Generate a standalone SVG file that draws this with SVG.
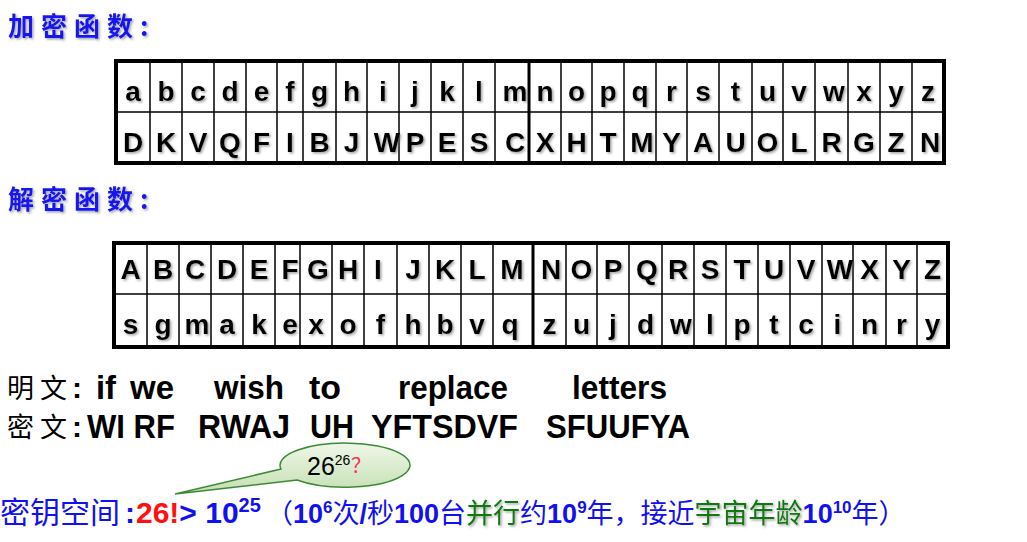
<svg xmlns="http://www.w3.org/2000/svg" width="1027" height="542" viewBox="0 0 1027 542">
<defs>
<filter id="sh" x="-20%" y="-20%" width="150%" height="150%">
<feDropShadow dx="1.5" dy="1.5" stdDeviation="0.9" flood-color="#666" flood-opacity="0.6"/>
</filter>
<linearGradient id="bub" x1="0" y1="0" x2="0" y2="1">
<stop offset="0" stop-color="#eef7e8"/>
<stop offset="1" stop-color="#c4dfb2"/>
</linearGradient>
<style>
.t{font-family:"Noto Sans CJK SC","Liberation Sans",sans-serif;font-weight:bold;font-size:26px;fill:#1414f0;letter-spacing:7px;filter:url(#sh)}
.cj{font-family:"Liberation Sans","Noto Sans CJK SC",sans-serif;font-size:27px;fill:#000;letter-spacing:6px}
.w{font-family:"Liberation Sans","Noto Sans CJK SC",sans-serif;font-weight:bold;font-size:33px;fill:#000}
.L{font-family:"Liberation Sans",Arial,sans-serif;font-weight:bold;font-size:28px;fill:#000;text-anchor:middle;filter:url(#sh)}
.grid{stroke:#000;stroke-width:1.5;fill:none}
.thick{stroke:#000;stroke-width:3;fill:none}
.frame{stroke:#000;stroke-width:4;fill:#fff}
.b{font-family:"Liberation Sans","Noto Sans CJK SC",sans-serif;fill:#1010f0}
.bd{font-weight:bold}
.g{fill:#107a10;filter:url(#sh)}
</style>
</defs>
<rect width="1027" height="542" fill="#fff"/>

<g id="title-enc"><text class="t" x="8" y="36">加密函数<tspan letter-spacing="0">:</tspan></text></g>

<g id="table-enc">
<rect class="frame" x="116" y="61" width="828" height="102"/>
<path class="grid" d="M116 112H944M150 61V163M182 61V163M214 61V163M246 61V163M277 61V163M303 61V163M336 61V163M367 61V163M399 61V163M431 61V163M463 61V163M495 61V163M561 61V163M592 61V163M624 61V163M656 61V163M687 61V163M719 61V163M752 61V163M783 61V163M815 61V163M848 61V163M880 61V163M912 61V163"/>
<path class="thick" d="M529 61V163"/>
<g class="row">
<text class="L" x="133" y="101">a</text><text class="L" x="166" y="101">b</text><text class="L" x="198" y="101">c</text><text class="L" x="230" y="101">d</text><text class="L" x="261.5" y="101">e</text><text class="L" x="290" y="101">f</text><text class="L" x="319.5" y="101">g</text><text class="L" x="351.5" y="101">h</text><text class="L" x="383" y="101">i</text><text class="L" x="415" y="101">j</text><text class="L" x="447" y="101">k</text><text class="L" x="479" y="101">l</text><text class="L" x="515" y="101">m</text><text class="L" x="545" y="101">n</text><text class="L" x="576.5" y="101">o</text><text class="L" x="608" y="101">p</text><text class="L" x="640" y="101">q</text><text class="L" x="671.5" y="101">r</text><text class="L" x="703" y="101">s</text><text class="L" x="735.5" y="101">t</text><text class="L" x="767.5" y="101">u</text><text class="L" x="799" y="101">v</text><text class="L" x="834" y="101">w</text><text class="L" x="864" y="101">x</text><text class="L" x="896" y="101">y</text><text class="L" x="928" y="101">z</text>
</g>
<g class="row">
<text class="L" x="133" y="152">D</text><text class="L" x="166" y="152">K</text><text class="L" x="198" y="152">V</text><text class="L" x="230" y="152">Q</text><text class="L" x="261.5" y="152">F</text><text class="L" x="290" y="152">I</text><text class="L" x="319.5" y="152">B</text><text class="L" x="351.5" y="152">J</text><text class="L" x="387" y="152">W</text><text class="L" x="415" y="152">P</text><text class="L" x="447" y="152">E</text><text class="L" x="479" y="152">S</text><text class="L" x="515" y="152">C</text><text class="L" x="545" y="152">X</text><text class="L" x="576.5" y="152">H</text><text class="L" x="608" y="152">T</text><text class="L" x="642" y="152">M</text><text class="L" x="671.5" y="152">Y</text><text class="L" x="703" y="152">A</text><text class="L" x="735.5" y="152">U</text><text class="L" x="767.5" y="152">O</text><text class="L" x="799" y="152">L</text><text class="L" x="831.5" y="152">R</text><text class="L" x="864" y="152">G</text><text class="L" x="896" y="152">Z</text><text class="L" x="930" y="152">N</text>
</g>
</g>

<g id="title-dec"><text class="t" x="8" y="209">解密函数<tspan letter-spacing="0">:</tspan></text></g>

<g id="table-dec">
<rect class="frame" x="114" y="243" width="834" height="104"/>
<path class="grid" d="M114 294H948M147 243V347M179 243V347M211 243V347M243 243V347M275 243V347M300 243V347M332 243V347M364 243V347M397 243V347M429 243V347M461 243V347M493 243V347M566 243V347M597 243V347M629 243V347M662 243V347M694 243V347M726 243V347M758 243V347M790 243V347M822 243V347M853 243V347M886 243V347M917 243V347"/>
<path class="thick" d="M533 243V347"/>
<g class="row">
<text class="L" x="130.5" y="279">A</text><text class="L" x="163" y="279">B</text><text class="L" x="195" y="279">C</text><text class="L" x="227" y="279">D</text><text class="L" x="259" y="279">E</text><text class="L" x="290" y="279">F</text><text class="L" x="318" y="279">G</text><text class="L" x="348" y="279">H</text><text class="L" x="378" y="279">I</text><text class="L" x="413" y="279">J</text><text class="L" x="445" y="279">K</text><text class="L" x="477" y="279">L</text><text class="L" x="512" y="279">M</text><text class="L" x="551" y="279">N</text><text class="L" x="581.5" y="279">O</text><text class="L" x="613" y="279">P</text><text class="L" x="647" y="279">Q</text><text class="L" x="678" y="279">R</text><text class="L" x="710" y="279">S</text><text class="L" x="742" y="279">T</text><text class="L" x="774" y="279">U</text><text class="L" x="806" y="279">V</text><text class="L" x="840" y="279">W</text><text class="L" x="869.5" y="279">X</text><text class="L" x="901.5" y="279">Y</text><text class="L" x="932.5" y="279">Z</text>
</g>
<g class="row">
<text class="L" x="130.5" y="334">s</text><text class="L" x="163" y="334">g</text><text class="L" x="197" y="334">m</text><text class="L" x="227" y="334">a</text><text class="L" x="259" y="334">k</text><text class="L" x="290" y="334">e</text><text class="L" x="316" y="334">x</text><text class="L" x="348" y="334">o</text><text class="L" x="380.5" y="334">f</text><text class="L" x="413" y="334">h</text><text class="L" x="445" y="334">b</text><text class="L" x="477" y="334">v</text><text class="L" x="510" y="334">q</text><text class="L" x="549.5" y="334">z</text><text class="L" x="581.5" y="334">u</text><text class="L" x="613" y="334">j</text><text class="L" x="645.5" y="334">d</text><text class="L" x="681" y="334">w</text><text class="L" x="710" y="334">l</text><text class="L" x="742" y="334">p</text><text class="L" x="774" y="334">t</text><text class="L" x="806" y="334">c</text><text class="L" x="837.5" y="334">i</text><text class="L" x="869.5" y="334">n</text><text class="L" x="901.5" y="334">r</text><text class="L" x="932.5" y="334">y</text>
</g>
</g>

<g id="plaintext">
<text class="cj" x="7" y="398">明文<tspan class="bd" font-size="30" letter-spacing="0" x="72">:</tspan></text>
<text class="w" x="96" y="399" textLength="20" lengthAdjust="spacingAndGlyphs">if</text>
<text class="w" x="130" y="399" textLength="44" lengthAdjust="spacingAndGlyphs">we</text>
<text class="w" x="214" y="399" textLength="70" lengthAdjust="spacingAndGlyphs">wish</text>
<text class="w" x="309" y="399" textLength="32" lengthAdjust="spacingAndGlyphs">to</text>
<text class="w" x="398" y="399" textLength="110" lengthAdjust="spacingAndGlyphs">replace</text>
<text class="w" x="572" y="399" textLength="95" lengthAdjust="spacingAndGlyphs">letters</text>
</g>

<g id="ciphertext">
<text class="cj" x="7" y="437">密文<tspan class="bd" font-size="30" letter-spacing="0" x="72">:</tspan></text>
<text class="w" x="87" y="438" textLength="88" lengthAdjust="spacingAndGlyphs">WI RF</text>
<text class="w" x="198" y="438" textLength="92" lengthAdjust="spacingAndGlyphs">RWAJ</text>
<text class="w" x="310" y="438" textLength="44" lengthAdjust="spacingAndGlyphs">UH</text>
<text class="w" x="371" y="438" textLength="147" lengthAdjust="spacingAndGlyphs">YFTSDVF</text>
<text class="w" x="546" y="438" textLength="144" lengthAdjust="spacingAndGlyphs">SFUUFYA</text>
</g>

<g id="callout">
<path d="M281 469L175 494L297 480A65 22 0 1 0 281 469Z" fill="url(#bub)" stroke="#3d8a35" stroke-width="1.5"/>
<text font-family="Liberation Sans,Arial,sans-serif" font-size="25" x="307" y="475" fill="#000">26<tspan font-size="14" dy="-10">26</tspan></text>
<text font-family="Noto Sans CJK SC,sans-serif" font-size="20" x="351" y="473" fill="#ff2a6a">？</text>
</g>

<g id="keyspace">
<text class="b" x="0" y="523" font-size="30">密钥空间<tspan class="bd" x="125">:</tspan></text>
<text class="b bd" x="136" y="523" font-size="30"><tspan fill="#ff1010">26!</tspan>&gt; 10<tspan font-size="20" dy="-11">25</tspan></text>
<text class="b" x="266" y="523" font-size="27">（<tspan class="bd">10</tspan><tspan class="bd" font-size="17" dy="-10">6</tspan><tspan dy="10">次</tspan><tspan class="bd">/</tspan>秒<tspan class="bd">100</tspan>台<tspan class="g">并行</tspan>约<tspan class="bd">10</tspan><tspan class="bd" font-size="17" dy="-10">9</tspan><tspan dy="10">年，接近</tspan><tspan class="g">宇宙年龄</tspan><tspan class="bd">10</tspan><tspan class="bd" font-size="17" dy="-10">10</tspan><tspan dy="10">年）</tspan></text>
</g>
</svg>
